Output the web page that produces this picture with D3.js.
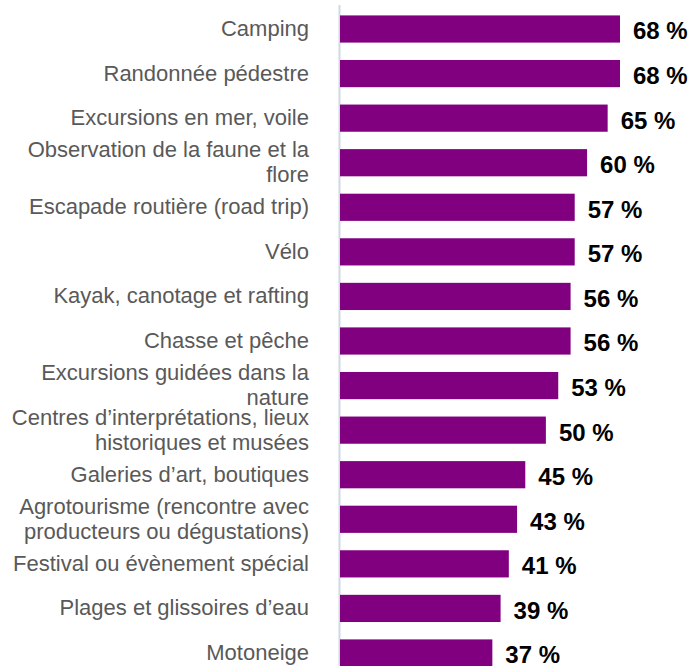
<!DOCTYPE html>
<html>
<head>
<meta charset="utf-8">
<script src="https://cdn.jsdelivr.net/npm/d3@7"></script>
<style>
  html, body { margin: 0; padding: 0; background: #ffffff; }
  svg { display: block; }
</style>
</head>
<body>
<svg id="chart" width="692" height="666"></svg>
<script>
// Activities and share of respondents (%)
const categories = [
  ["Camping"],
  ["Randonnée pédestre"],
  ["Excursions en mer, voile"],
  ["Observation de la faune et la", "flore"],
  ["Escapade routière (road trip)"],
  ["Vélo"],
  ["Kayak, canotage et rafting"],
  ["Chasse et pêche"],
  ["Excursions guidées dans la", "nature"],
  ["Centres d’interprétations, lieux", "historiques et musées"],
  ["Galeries d’art, boutiques"],
  ["Agrotourisme (rencontre avec", "producteurs ou dégustations)"],
  ["Festival ou évènement spécial"],
  ["Plages et glissoires d’eau"],
  ["Motoneige"]
];
const values = [68, 68, 65, 60, 57, 57, 56, 56, 53, 50, 45, 43, 41, 39, 37];

const svg = d3.select("#chart");
const keys = categories.map((c, i) => i);

const x = d3.scaleLinear().domain([0, 68]).range([340, 620]);
const y = d3.scaleBand().domain(keys).range([6.5, 675.5]).paddingInner(0.39).paddingOuter(0.2);

// vertical category axis line
svg.append("line")
  .attr("x1", 339.5).attr("x2", 339.5)
  .attr("y1", 5).attr("y2", 666)
  .attr("stroke", "#d0d8e6").attr("stroke-width", 2);

// bars
svg.selectAll("rect.bar")
  .data(values)
  .join("rect")
  .attr("class", "bar")
  .attr("x", x(0))
  .attr("y", (d, i) => y(i))
  .attr("width", d => x(d) - x(0))
  .attr("height", y.bandwidth())
  .attr("fill", "#800080");

// category labels
const labels = svg.selectAll("text.cat")
  .data(categories)
  .join("text")
  .attr("class", "cat")
  .attr("text-anchor", "end")
  .attr("font-family", "Liberation Sans, Arial, sans-serif")
  .attr("font-size", 22)
  .attr("fill", "#595959")
  .attr("transform", (d, i) => `translate(309, ${y(i) + y.bandwidth() / 2})`);

const lineH = 25;
labels.each(function (lines) {
  const t = d3.select(this);
  const n = lines.length;
  lines.forEach((ln, k) => {
    t.append("tspan")
      .attr("x", 0)
      .attr("y", (k - (n - 1) / 2) * lineH)
      .attr("dy", "0.32em")
      .text(ln);
  });
});

// value labels
svg.selectAll("text.val")
  .data(values)
  .join("text")
  .attr("class", "val")
  .attr("x", d => x(d) + 13)
  .attr("y", (d, i) => y(i) + y.bandwidth() / 2 + 2)
  .attr("dy", "0.35em")
  .attr("font-family", "Liberation Sans, Arial, sans-serif")
  .attr("font-weight", "bold")
  .attr("font-size", 24)
  .attr("fill", "#000000")
  .text(d => d + " %");
</script>
</body>
</html>
